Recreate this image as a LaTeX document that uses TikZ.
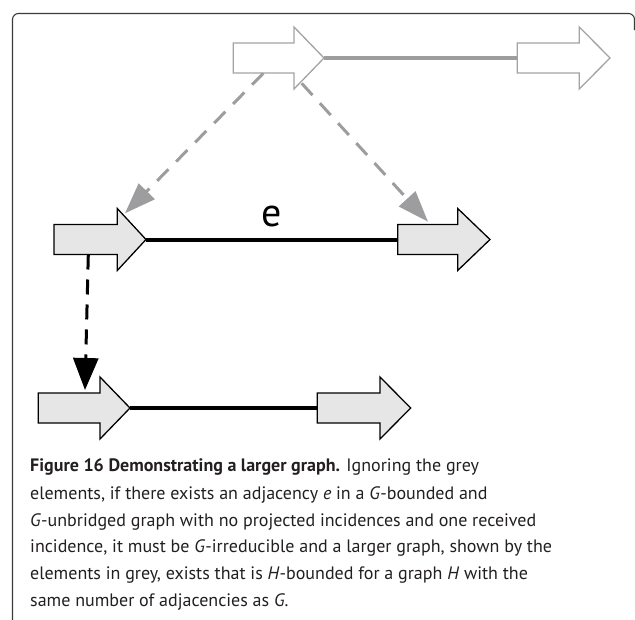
\documentclass[tikz,border=0pt]{standalone}
\usepackage{fontspec}
\setmainfont{PT Sans}
\usetikzlibrary{arrows.meta}
\definecolor{lightfill}{HTML}{E6E6E6}
\definecolor{greyline}{HTML}{9D9D9F}
\definecolor{greyout}{HTML}{A3A3A5}
\definecolor{framecol}{HTML}{3A3A3A}
\definecolor{captext}{HTML}{231F20}
\tikzset{
  frameline/.style={draw=framecol, line width=1.1pt, rounded corners=6pt},
  greyblock/.style={draw=greyout, fill=white, line width=1.3pt},
  blackblock/.style={draw=black, fill=lightfill, line width=1.3pt},
  greyedge/.style={draw=greyline, line width=3.8pt},
  blackedge/.style={draw=black, line width=4pt},
  greydash/.style={draw=greyline, line width=3pt, dash pattern=on 16pt off 11pt,
    -{Triangle[length=31pt,width=22pt,fill=greyline]}},
  blackdash/.style={draw=black, line width=3pt, dash pattern=on 15pt off 10pt,
    -{Triangle[length=32pt,width=25pt,fill=black]}},
  labeltext/.style={inner sep=0pt, font=\fontsize{40}{40}\selectfont},
  capline/.style={inner sep=0pt, anchor=base west, text=captext,
    font=\fontsize{18}{20}\selectfont}
}
% name, style, x left, x head base, x tip, y centre
\newcommand{\blockarrow}[6]{%
  \draw[#2] (#3,#6-15) -- (#4,#6-15) -- (#4,#6-31) -- (#5,#6) -- (#4,#6+31)
    -- (#4,#6+15) -- (#3,#6+15) -- cycle;
  \coordinate (#1-tip) at (#5,#6);
  \coordinate (#1-tail) at (#3,#6);
}
\begin{document}
\begin{tikzpicture}[x=1pt,y=-1pt]
\useasboundingbox (0,0) rectangle (635,619);
% frame
\draw[frameline] (12.5,625) -- (12.5,13.5) -- (634.5,13.5) -- (634.5,30);
% top (grey) row
\blockarrow{tL}{greyblock}{233.3}{294}{324}{58}
\blockarrow{tR}{greyblock}{517.3}{579.3}{610}{58}
\draw[greyedge] (tL-tip) -- (tR-tail);
% middle row
\blockarrow{mL}{blackblock}{54}{117.3}{146}{239.5}
\blockarrow{mR}{blackblock}{397.7}{457.7}{490}{239.5}
\draw[blackedge] (mL-tip) -- (mR-tail);
\node[labeltext] (elabel) at (271.7,216) {e};
% bottom row
\blockarrow{bL}{blackblock}{38.3}{100}{130}{408}
\blockarrow{bR}{blackblock}{317.3}{380}{410.7}{408}
\draw[blackedge] (bL-tip) -- (bR-tail);
% dashed connectors
\coordinate (g1s) at (263.3,73.3);
\coordinate (g1e) at (125,213.3);
\coordinate (g2s) at (301.7,83.3);
\coordinate (g2e) at (428,221.7);
\coordinate (b1s) at (88.3,254.5);
\coordinate (b1e) at (85,390);
\draw[greydash] (g1s) -- (g1e);
\draw[greydash] (g2s) -- (g2e);
\draw[blackdash] (b1s) -- (b1e);
% caption
\node[capline] (cap1) at (30,471.7) {\textbf{Figure 16 Demonstrating a larger graph.} Ignoring the grey};
\node[capline] (cap2) at (30,499.3) {elements, if there exists an adjacency \textit{e} in a \textit{G}-bounded and};
\node[capline] (cap3) at (30,526) {\textit{G}-unbridged graph with no projected incidences and one received};
\node[capline] (cap4) at (30,552.7) {incidence, it must be \textit{G}-irreducible and a larger graph, shown by the};
\node[capline] (cap5) at (30,579.3) {elements in grey, exists that is \textit{H}-bounded for a graph \textit{H} with the};
\node[capline] (cap6) at (30,606) {same number of adjacencies as \textit{G}.};
\end{tikzpicture}
\end{document}
